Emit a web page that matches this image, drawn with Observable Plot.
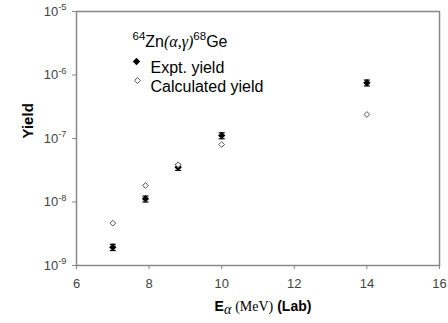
<!DOCTYPE html>
<html>
<head>
<meta charset="utf-8">
<script src="https://cdn.jsdelivr.net/npm/d3@7"></script>
<script src="https://cdn.jsdelivr.net/npm/@observablehq/plot@0.6"></script>
<style>
  html, body { margin: 0; padding: 0; background: #fff; }
</style>
</head>
<body>
<div id="chart"></div>
<script>
// ---- data ----
const energy     = [7, 7.9, 8.8, 10, 14];                          // E_alpha (MeV, lab)
const exptYield  = [1.94e-9, 1.12e-8, 3.53e-8, 1.11e-7, 7.53e-7];  // experimental yield
const exptError  = [0.22e-9, 1.2e-9, 3.8e-9, 1.2e-8, 8.0e-8];      // error bars
const calcYield  = [4.64e-9, 1.82e-8, 3.86e-8, 8.05e-8, 2.39e-7];  // calculated yield
const xTicks     = [6, 8, 10, 12, 14, 16];
const yTicks     = [1e-9, 1e-8, 1e-7, 1e-6, 1e-5];
const legendTitle = "^{64}Zn~{(α,γ)}^{68}Ge";
const seriesNames = ["Expt. yield", "Calculated yield"];
const xLabel = "E_{α} !{(MeV)} (Lab)";
const yLabel = "Yield";

const expt = energy.map((e, i) => ({x: e, y: exptYield[i], lo: exptYield[i] - exptError[i], hi: exptYield[i] + exptError[i]}));
const calc = energy.map((e, i) => ({x: e, y: calcYield[i]}));

// horizontal cap symbol for error bars
const capSymbol = { draw(ctx, size) { const w = 3; ctx.moveTo(-w, 0); ctx.lineTo(w, 0); } };

const chart = Plot.plot({
  width: 448,
  height: 323,
  marginLeft: 76,
  marginRight: 9,
  marginTop: 11,
  marginBottom: 58,
  style: { fontFamily: "'Liberation Sans', Arial, sans-serif", fontSize: "13px", color: "#444", background: "#fff" },
  x: { domain: [6, 16], ticks: xTicks, tickSize: 4, tickPadding: 9, label: null },
  y: { type: "log", domain: [1e-9, 1e-5], ticks: yTicks, tickSize: 4, tickPadding: 6, label: null,
       tickFormat: d => "10^{" + Math.round(Math.log10(d)) + "}" },
  marks: [
    Plot.frame({ stroke: "#888", strokeWidth: 1.5 }),
    // error bars
    Plot.ruleX(expt, { x: "x", y1: "lo", y2: "hi", stroke: "#000", strokeWidth: 1 }),
    Plot.dot(expt, { x: "x", y: "lo", symbol: capSymbol, stroke: "#000", strokeWidth: 1.2, r: 3 }),
    Plot.dot(expt, { x: "x", y: "hi", symbol: capSymbol, stroke: "#000", strokeWidth: 1.2, r: 3 }),
    // experimental (filled diamond)
    Plot.dot(expt, { x: "x", y: "y", symbol: "diamond2", fill: "#000", stroke: "none", r: 3.3 }),
    // calculated (open diamond)
    Plot.dot(calc, { x: "x", y: "y", symbol: "diamond2", fill: "#fff", stroke: "#555", strokeWidth: 1, r: 2.6 }),
    // legend
    Plot.text([legendTitle], { frameAnchor: "top-left", dx: 56, dy: 24, textAnchor: "start", fontSize: 16, fill: "#000" }),
    Plot.dot([seriesNames[0]], { frameAnchor: "top-left", dx: 60, dy: 50, symbol: "diamond2", fill: "#000", stroke: "none", r: 3.3 }),
    Plot.dot([seriesNames[1]], { frameAnchor: "top-left", dx: 61, dy: 69, symbol: "diamond2", fill: "#fff", stroke: "#555", strokeWidth: 1, r: 2.6 }),
    Plot.text([seriesNames[0]], { frameAnchor: "top-left", dx: 74, dy: 50, textAnchor: "start", fontSize: 16, fill: "#000" }),
    Plot.text([seriesNames[1]], { frameAnchor: "top-left", dx: 74, dy: 69, textAnchor: "start", fontSize: 16, fill: "#000" }),
    // axis labels
    Plot.text([yLabel], { frameAnchor: "left", dx: -48, rotate: -90, fontSize: 15, fontWeight: "bold", fill: "#000" }),
    Plot.text([xLabel], { frameAnchor: "bottom", dx: 5, dy: 45, fontSize: 14, fontWeight: "bold", fill: "#000" })
  ]
});

document.getElementById("chart").appendChild(chart);

// tick line colour like the frame
d3.select(chart).selectAll("g[aria-label$='axis'] line, .tick line").attr("stroke", "#888");
d3.select(chart).selectAll("[aria-label='y-axis tick'] path, [aria-label='x-axis tick'] path").attr("stroke", "#888");

// rich-text: ^{sup}  _{sub, serif italic}  ~{serif italic}  !{serif}
function richText(el) {
  const s = el.textContent;
  if (!/[\^_~!]\{/.test(s)) return;
  const fs = parseFloat(getComputedStyle(el).fontSize) || 13;
  el.textContent = "";
  const re = /([\^_~!])\{([^}]*)\}/g;
  let last = 0, m, shift = 0;
  const add = (txt, kind) => {
    if (!txt) return;
    const t = document.createElementNS("http://www.w3.org/2000/svg", "tspan");
    let target = 0;
    if (kind === "^") { target = -0.42 * fs; t.setAttribute("font-size", (0.72 * fs) + "px"); }
    if (kind === "_") { target = 0.22 * fs; t.setAttribute("font-family", "'Liberation Serif', serif"); t.setAttribute("font-style", "italic"); t.setAttribute("font-weight", "normal"); }
    if (kind === "~") { t.setAttribute("font-family", "'Liberation Serif', serif"); t.setAttribute("font-style", "italic"); }
    if (kind === "!") { t.setAttribute("font-family", "'Liberation Serif', serif"); t.setAttribute("font-weight", "normal"); }
    const dy = target - shift;
    if (dy) t.setAttribute("dy", dy + "px");
    shift = target;
    t.textContent = txt;
    el.appendChild(t);
  };
  while ((m = re.exec(s))) {
    add(s.slice(last, m.index), "");
    add(m[2], m[1]);
    last = re.lastIndex;
  }
  add(s.slice(last), "");
}
chart.querySelectorAll("text").forEach(richText);
</script>
</body>
</html>
